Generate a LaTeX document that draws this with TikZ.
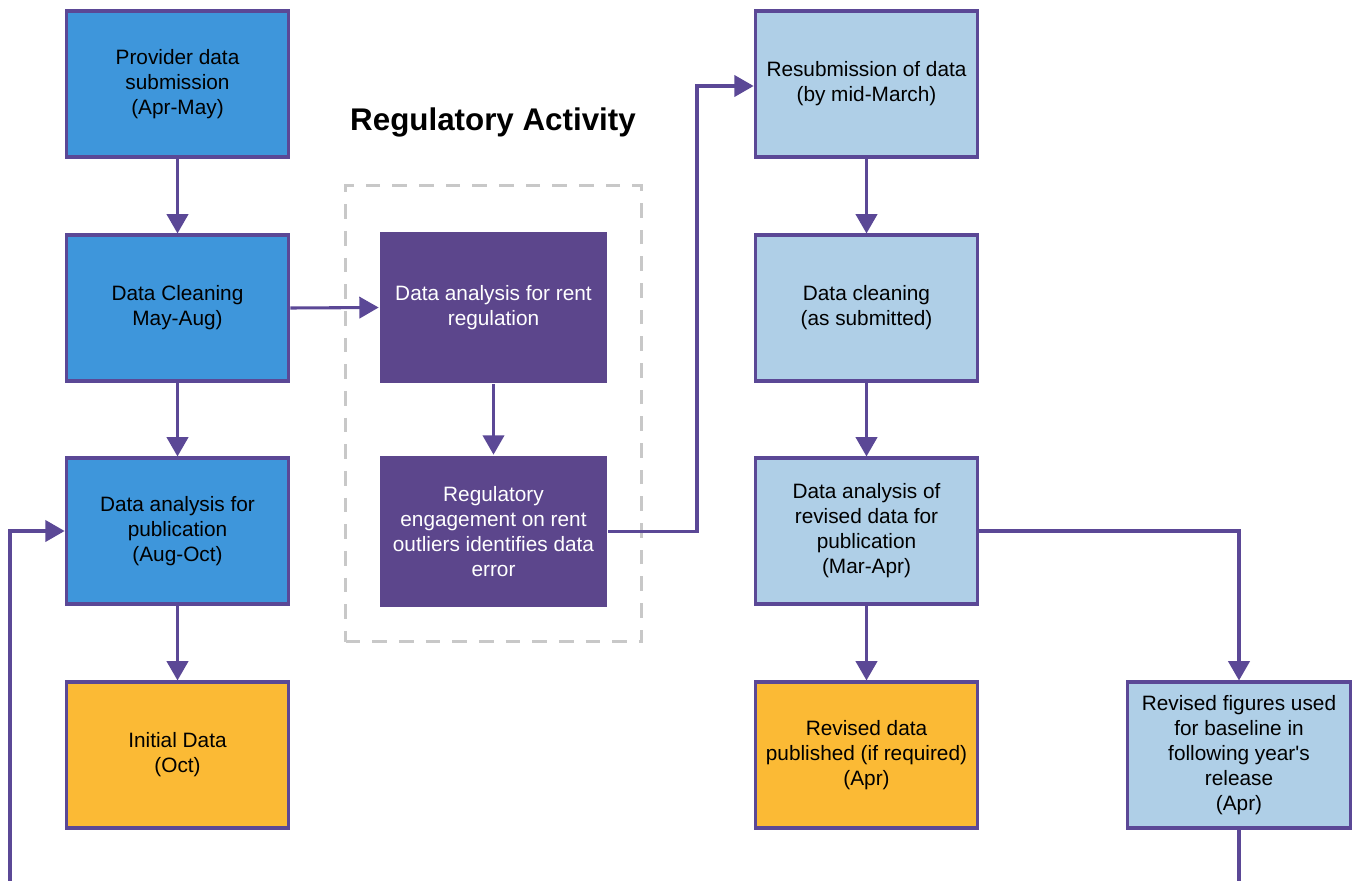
\documentclass[tikz,border=0pt]{standalone}
\usepackage{fontspec}
\setmainfont{Liberation Sans}
\usetikzlibrary{arrows.meta}
\definecolor{bluefill}{HTML}{3E96DB}
\definecolor{purpline}{HTML}{5B4896}
\definecolor{purpfill}{HTML}{5C468C}
\definecolor{lightfill}{HTML}{AFCFE7}
\definecolor{orangefill}{HTML}{FBBA35}
\definecolor{dashgray}{HTML}{C8C8C8}
\tikzset{
  box/.style={rectangle, draw=purpline, line width=2.3pt, minimum width=167pt, minimum height=109.5pt, align=center, inner sep=2pt, font=\fontsize{15.6pt}{18.8pt}\selectfont, execute at begin node={\rule{0pt}{14.5pt}}},
  bluebox/.style={box, fill=bluefill, text=black},
  lightbox/.style={box, fill=lightfill, text=black},
  orangebox/.style={box, fill=orangefill, text=black},
  purpbox/.style={box, draw=none, fill=purpfill, text=white, minimum width=170pt, minimum height=113pt},
  conn/.style={draw=purpline, line width=2.3pt, -{Triangle[length=14.5pt,width=16pt]}},
  plainconn/.style={draw=purpline, line width=2.3pt},
  region/.style={draw=dashgray, line width=2.3pt, dash pattern=on 11pt off 9pt}
}
\begin{document}
\begin{tikzpicture}[x=0.75pt,y=-0.75pt]
\useasboundingbox (0,0) rectangle (1356,881);
\node[region, minimum width=222pt, minimum height=342pt] (reg) at (493.5,413.5) {};
\node[font=\fontsize{23.5pt}{28pt}\selectfont\bfseries] (title) at (493,122.5) {Regulatory Activity};

\node[bluebox] (p) at (177.5,84) {Provider data\\submission\\(Apr-May)};
\node[bluebox] (dc) at (177.5,308) {Data Cleaning\\May-Aug)};
\node[bluebox] (dap) at (177.5,531) {Data analysis for\\publication\\(Aug-Oct)};
\node[orangebox] (init) at (177.5,755) {Initial Data\\(Oct)};

\node[purpbox] (rr) at (493.5,307.5) {Data analysis for rent\\regulation};
\node[purpbox] (re) at (493.5,531.5) {Regulatory\\engagement on rent\\outliers identifies data\\error};

\node[lightbox] (rs) at (866.5,84) {Resubmission of data\\(by mid-March)};
\node[lightbox] (dc2) at (866.5,308) {Data cleaning\\(as submitted)};
\node[lightbox] (dar) at (866.5,531) {Data analysis of\\revised data for\\publication\\(Mar-Apr)};
\node[orangebox] (rdp) at (866.5,755) {Revised data\\published (if required)\\(Apr)};
\node[lightbox] (rf) at (1239,755) {Revised figures used\\for baseline in\\following year\textquotesingle s\\release\\(Apr)};

\coordinate (lb) at (10,884);
\coordinate (rb) at (1239,884);
\coordinate (j1) at (697,86);

\draw[conn] (p) -- (dc);
\draw[conn] (dc) -- (dap);
\draw[conn] (dap) -- (init);
\draw[conn] (dc.east) -- (rr.west);
\draw[conn] (rr) -- (re);
\draw[conn] (re.east) -| (j1) -- (rs.west |- j1);
\draw[conn] (rs) -- (dc2);
\draw[conn] (dc2) -- (dar);
\draw[conn] (dar) -- (rdp);
\draw[conn] (dar.east) -| (rf.north);
\draw[conn] (lb) |- (dap.west);
\draw[plainconn] (rf.south) -- (rb);
\end{tikzpicture}
\end{document}
